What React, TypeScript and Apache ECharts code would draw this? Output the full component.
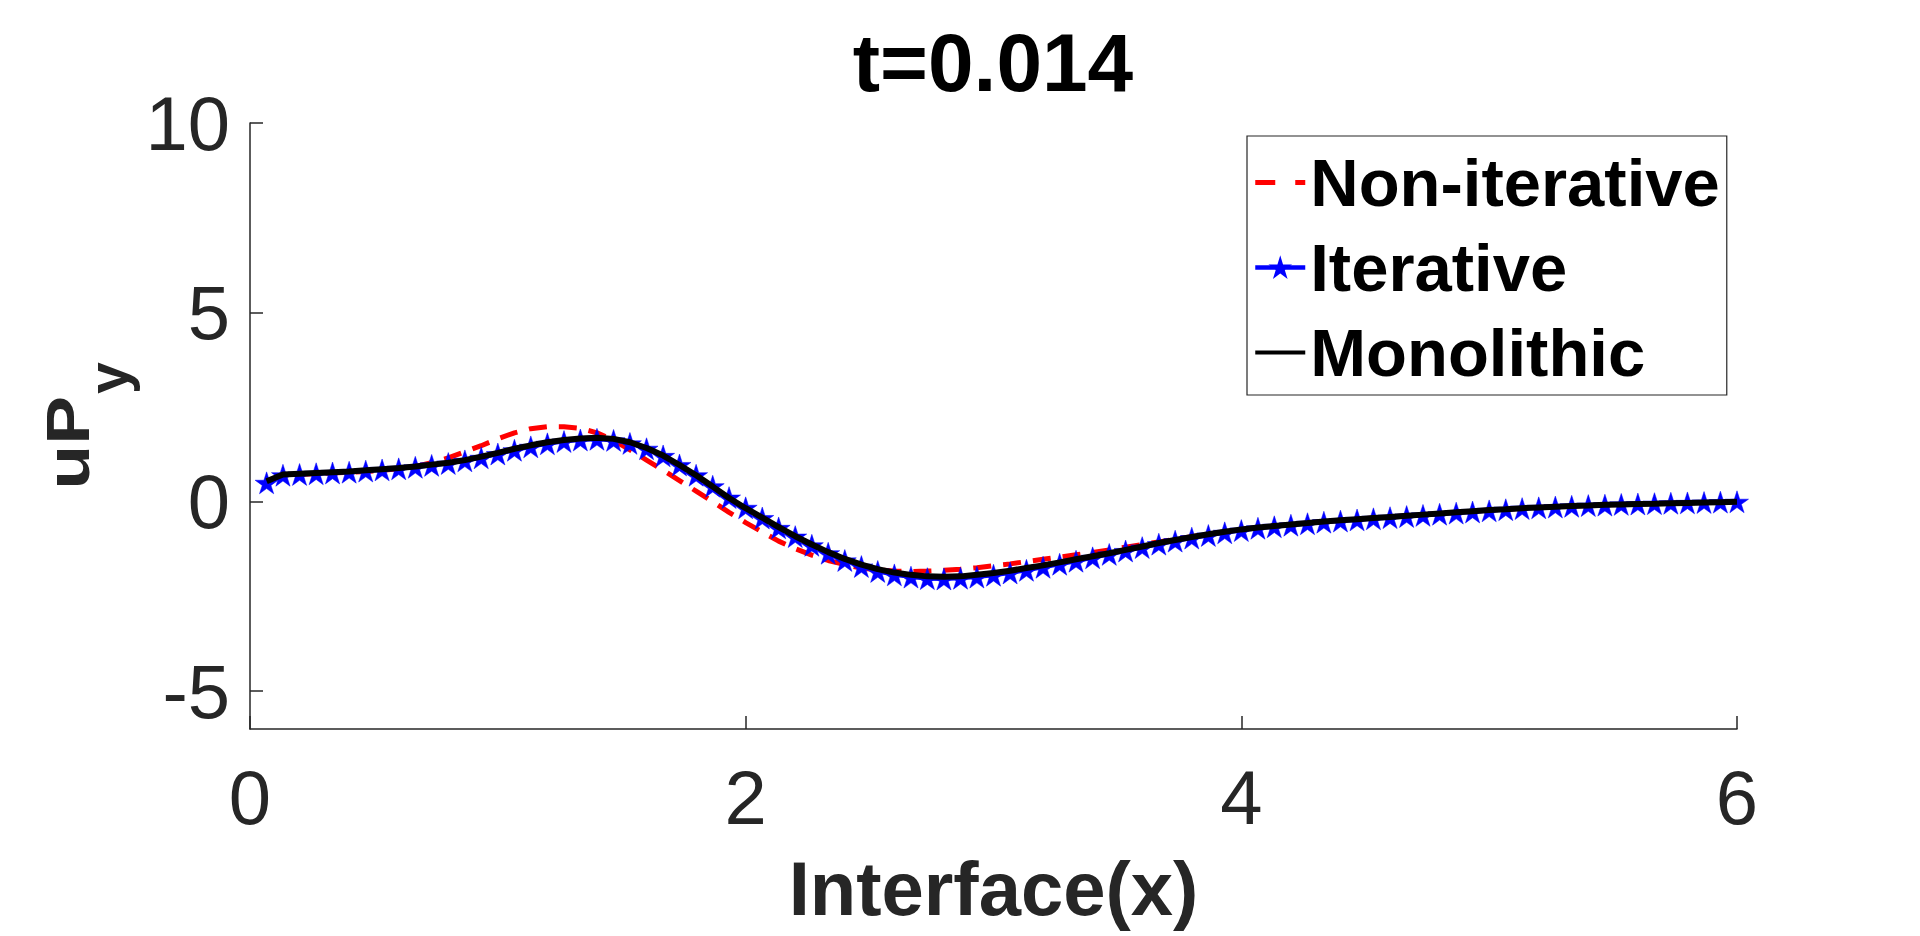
import React, { useEffect, useRef } from "react";
import * as echarts from "echarts";

const X = [
  0.067, 0.133, 0.2, 0.267, 0.333, 0.4, 0.467, 0.533, 0.6, 0.667,
  0.733, 0.8, 0.867, 0.933, 1.0, 1.067, 1.133, 1.2, 1.267, 1.333,
  1.4, 1.467, 1.533, 1.6, 1.667, 1.733, 1.8, 1.867, 1.933, 2.0,
  2.067, 2.133, 2.2, 2.267, 2.333, 2.4, 2.467, 2.533, 2.6, 2.667,
  2.733, 2.8, 2.867, 2.933, 3.0, 3.067, 3.133, 3.2, 3.267, 3.333,
  3.4, 3.467, 3.533, 3.6, 3.667, 3.733, 3.8, 3.867, 3.933, 4.0,
  4.067, 4.133, 4.2, 4.267, 4.333, 4.4, 4.467, 4.533, 4.6, 4.667,
  4.733, 4.8, 4.867, 4.933, 5.0, 5.067, 5.133, 5.2, 5.267, 5.333,
  5.4, 5.467, 5.533, 5.6, 5.667, 5.733, 5.8, 5.867, 5.933, 6.0,
];

const NON_ITERATIVE = [
  0.54, 0.70, 0.72, 0.74, 0.76, 0.78, 0.80, 0.83, 0.87, 0.93,
  1.03, 1.16, 1.32, 1.48, 1.66, 1.82, 1.93, 1.98, 1.98, 1.94,
  1.82, 1.62, 1.37, 1.10, 0.83, 0.56, 0.28, 0.00, -0.28, -0.55,
  -0.80, -1.04, -1.24, -1.41, -1.55, -1.66, -1.75, -1.80, -1.83, -1.84,
  -1.83, -1.81, -1.78, -1.74, -1.69, -1.64, -1.58, -1.52, -1.46, -1.40,
  -1.34, -1.27, -1.20, -1.13, -1.06, -0.99, -0.92, -0.85, -0.79, -0.73,
  -0.68, -0.64, -0.60, -0.56, -0.52, -0.49, -0.46, -0.43, -0.40, -0.37,
  -0.34, -0.31, -0.28, -0.25, -0.22, -0.20, -0.17, -0.15, -0.13, -0.11,
  -0.10, -0.08, -0.07, -0.06, -0.05, -0.04, -0.03, -0.02, -0.01, 0.00,
];

const ITERATIVE = [
  0.50, 0.70, 0.72, 0.74, 0.76, 0.78, 0.81, 0.84, 0.87, 0.91,
  0.96, 1.01, 1.08, 1.16, 1.26, 1.36, 1.45, 1.53, 1.59, 1.63,
  1.65, 1.62, 1.54, 1.40, 1.21, 0.97, 0.70, 0.41, 0.11, -0.16,
  -0.43, -0.69, -0.92, -1.15, -1.36, -1.55, -1.71, -1.84, -1.93, -1.99,
  -2.03, -2.04, -2.02, -1.99, -1.94, -1.88, -1.81, -1.73, -1.65, -1.57,
  -1.48, -1.39, -1.30, -1.21, -1.12, -1.04, -0.96, -0.89, -0.82, -0.76,
  -0.70, -0.66, -0.62, -0.58, -0.54, -0.51, -0.48, -0.45, -0.42, -0.39,
  -0.36, -0.33, -0.30, -0.27, -0.24, -0.21, -0.18, -0.16, -0.14, -0.12,
  -0.10, -0.09, -0.07, -0.06, -0.05, -0.04, -0.03, -0.02, -0.01, 0.00,
];

const MONOLITHIC = [
  0.54, 0.72, 0.74, 0.76, 0.78, 0.80, 0.83, 0.86, 0.89, 0.93,
  0.98, 1.03, 1.10, 1.19, 1.29, 1.40, 1.49, 1.57, 1.63, 1.67,
  1.69, 1.66, 1.57, 1.42, 1.22, 0.97, 0.70, 0.40, 0.10, -0.17,
  -0.42, -0.67, -0.91, -1.13, -1.33, -1.51, -1.66, -1.78, -1.87, -1.93,
  -1.97, -1.98, -1.97, -1.93, -1.88, -1.82, -1.75, -1.68, -1.60, -1.52,
  -1.44, -1.36, -1.27, -1.18, -1.09, -1.01, -0.93, -0.86, -0.79, -0.73,
  -0.68, -0.64, -0.60, -0.56, -0.52, -0.49, -0.46, -0.43, -0.40, -0.37,
  -0.34, -0.31, -0.28, -0.25, -0.22, -0.20, -0.17, -0.15, -0.13, -0.11,
  -0.10, -0.08, -0.07, -0.06, -0.05, -0.04, -0.03, -0.02, -0.01, 0.00,
];

const X_TICKS = [0, 2, 4, 6];
const Y_TICKS = [-5, 0, 5, 10];
const SERIES_NAMES = ["Non-iterative", "Iterative", "Monolithic"];
const TITLE = "t=0.014";
const X_NAME = "Interface(x)";
const Y_NAME_MAIN = "uP";
const Y_NAME_SUB = "y";

const STAR =
  "path://M50,2 L61.17,36.63 L97.55,36.55 L68.07,57.87 L79.39,92.45 L50,71 L20.61,92.45 L31.93,57.87 L2.45,36.55 L38.83,36.63 Z";
const DASH_ICON = "path://M0,0 L20,0 L20,5 L0,5 Z M40,0 L50,0 L50,5 L40,5 Z";
const SOLID_ICON = "path://M0,0 L50,0 L50,4 L0,4 Z";

const FONT = "'Liberation Sans', Arial, Helvetica, sans-serif";
const AX = "#262626";

export default function App() {
  const ref = useRef<HTMLDivElement>(null);

  useEffect(() => {
    if (!ref.current) return;
    const chart = echarts.init(ref.current, undefined, { renderer: "svg" });
    const pairs = (ys: number[]) => X.map((x, i) => [x, ys[i]]);

    chart.setOption({
      animation: false,
      backgroundColor: "#ffffff",
      grid: { left: 250, right: 183, top: 123, bottom: 207, containLabel: false },
      xAxis: {
        type: "value",
        min: 0,
        max: 6,
        interval: 2,
        name: X_NAME,
        nameLocation: "middle",
        nameGap: 121,
        nameTextStyle: { fontFamily: FONT, fontSize: 76, fontWeight: "bold", color: AX },
        axisLine: { show: true, onZero: false, lineStyle: { color: AX, width: 1.5 } },
        axisTick: {
          show: true,
          inside: true,
          length: 13,
          customValues: X_TICKS,
          lineStyle: { color: AX, width: 1.5 },
        },
        axisLabel: { customValues: X_TICKS, fontFamily: FONT, fontSize: 76, color: AX, margin: 30 },
        splitLine: { show: false },
      },
      yAxis: {
        type: "value",
        min: -6,
        max: 10,
        axisLine: { show: true, onZero: false, lineStyle: { color: AX, width: 1.5 } },
        axisTick: {
          show: true,
          inside: true,
          length: 13,
          customValues: Y_TICKS,
          lineStyle: { color: AX, width: 1.5 },
        },
        axisLabel: { customValues: Y_TICKS, fontFamily: FONT, fontSize: 76, color: AX, margin: 20 },
        splitLine: { show: false },
      },
      legend: {
        show: true,
        orient: "vertical",
        left: 1247,
        top: 136,
        padding: [13, 7, 9, 6],
        itemGap: 18,
        itemWidth: 50,
        itemHeight: 22,
        borderColor: AX,
        borderWidth: 1.2,
        backgroundColor: "#ffffff",
        selectedMode: false,
        data: [
          { name: SERIES_NAMES[0], icon: DASH_ICON },
          { name: SERIES_NAMES[1], lineStyle: { width: 4.5 } },
          { name: SERIES_NAMES[2], icon: SOLID_ICON },
        ],
        textStyle: { fontFamily: FONT, fontSize: 67, fontWeight: "bold", color: "#000000", lineHeight: 66 },
      },
      graphic: [
        {
          type: "text",
          x: 993,
          y: 62,
          style: {
            text: TITLE,
            fontFamily: FONT,
            fontSize: 82,
            fontWeight: "bold",
            fill: "#000000",
            align: "center",
            verticalAlign: "middle",
          },
        },
        {
          type: "group",
          x: 92,
          y: 424,
          rotation: Math.PI / 2,
          children: [
            {
              type: "text",
              x: 28,
              y: -24,
              scaleX: 1.18,
              style: {
                text: Y_NAME_MAIN,
                fontFamily: FONT,
                fontSize: 62,
                fontWeight: "bold",
                fill: AX,
                align: "right",
                verticalAlign: "middle",
              },
            },
            {
              type: "text",
              x: 30,
              y: 16,
              style: {
                text: Y_NAME_SUB,
                fontFamily: FONT,
                fontSize: 57,
                fontWeight: "bold",
                fill: AX,
                align: "left",
                verticalAlign: "middle",
              },
            },
          ],
        },
      ],
      series: [
        {
          name: SERIES_NAMES[0],
          type: "line",
          data: pairs(NON_ITERATIVE),
          symbol: "none",
          z: 2,
          lineStyle: { color: "#ff0000", width: 5, type: [18, 12] },
          itemStyle: { color: "#ff0000" },
        },
        {
          name: SERIES_NAMES[1],
          type: "line",
          data: pairs(ITERATIVE),
          symbol: STAR,
          symbolSize: 23,
          symbolKeepAspect: true,
          showSymbol: true,
          z: 3,
          lineStyle: { color: "#0000ff", width: 4 },
          itemStyle: { color: "#0000ff", borderColor: "#0000ff", borderWidth: 0.5 },
        },
        {
          name: SERIES_NAMES[2],
          type: "line",
          data: pairs(MONOLITHIC),
          symbol: "none",
          z: 4,
          lineStyle: { color: "#000000", width: 6 },
          itemStyle: { color: "#000000" },
        },
      ],
    });

    return () => {
      chart.dispose();
    };
  }, []);

  return (
    <div
      ref={ref}
      style={{ position: "fixed", left: 0, top: 0, width: 1920, height: 936, background: "#ffffff" }}
    />
  );
}
